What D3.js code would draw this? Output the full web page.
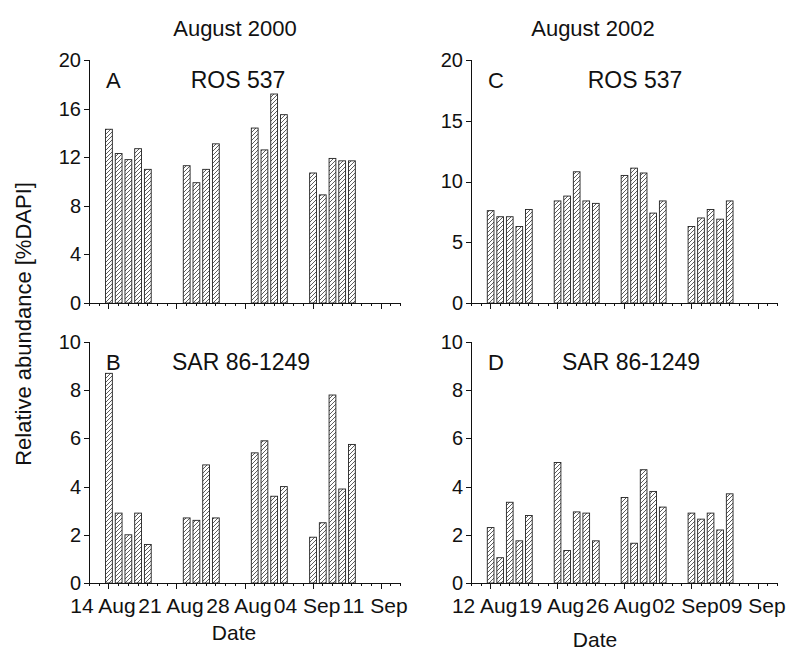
<!DOCTYPE html>
<html>
<head>
<meta charset="utf-8">
<script src="https://cdn.jsdelivr.net/npm/d3@7"></script>
<style>
  body { margin: 0; background: #fff; }
  svg { font-family: "Liberation Sans", Arial, sans-serif; }
  .axis path, .axis line { stroke: #111; stroke-width: 1; shape-rendering: crispEdges; }
  .axis text { fill: #111; font-size: 20px; }
  .xlab text { font-size: 21px; }
</style>
</head>
<body>
<div id="chart"></div>
<script>
// sampling days (5 / 4 bars per week)
var days2000 = ["2000-08-14","2000-08-15","2000-08-16","2000-08-17","2000-08-18",
                "2000-08-22","2000-08-23","2000-08-24","2000-08-25",
                "2000-08-29","2000-08-30","2000-08-31","2000-09-01",
                "2000-09-04","2000-09-05","2000-09-06","2000-09-07","2000-09-08"]
var days2002 = ["2002-08-12","2002-08-13","2002-08-14","2002-08-15","2002-08-16",
                "2002-08-19","2002-08-20","2002-08-21","2002-08-22","2002-08-23",
                "2002-08-26","2002-08-27","2002-08-28","2002-08-29","2002-08-30",
                "2002-09-02","2002-09-03","2002-09-04","2002-09-05","2002-09-06"]

// relative abundance [%DAPI]
var ros2000 = [14.3, 12.3, 11.8, 12.7, 11.0,
               11.3, 9.9, 11.0, 13.1,
               14.4, 12.6, 17.2, 15.5,
               10.7, 8.9, 11.9, 11.7, 11.7]
var sar2000 = [8.7, 2.9, 2.0, 2.9, 1.6,
               2.7, 2.6, 4.9, 2.7,
               5.4, 5.9, 3.6, 4.0,
               1.9, 2.5, 7.8, 3.9, 5.75]
var ros2002 = [7.6, 7.1, 7.1, 6.3, 7.7,
               8.4, 8.8, 10.8, 8.4, 8.2,
               10.5, 11.1, 10.7, 7.4, 8.4,
               6.3, 7.0, 7.7, 6.9, 8.4]
var sar2002 = [2.3, 1.05, 3.35, 1.75, 2.8,
               5.0, 1.35, 2.95, 2.9, 1.75,
               3.55, 1.65, 4.7, 3.8, 3.15,
               2.9, 2.65, 2.9, 2.2, 3.7]

var ticks2000 = ["2000-08-14","2000-08-21","2000-08-28","2000-09-04","2000-09-11"]
var ticks2002 = ["2002-08-12","2002-08-19","2002-08-26","2002-09-02","2002-09-09"]

var parse = d3.timeParse("%Y-%m-%d")
var fmt = d3.timeFormat("%d %b")

var W = 786, H = 657

var svg = d3.select("#chart").append("svg")
    .attr("width", W)
    .attr("height", H)

// hatch pattern for the bars
var defs = svg.append("defs")
defs.append("pattern")
    .attr("id", "hatch")
    .attr("patternUnits", "userSpaceOnUse")
    .attr("width", 4).attr("height", 4)
  .append("path")
    .attr("d", "M-1,1 l2,-2 M0,4 l4,-4 M3,5 l2,-2")
    .attr("stroke", "#333")
    .attr("stroke-width", 0.8)

var cols = [
  {x0: 89, x1: 400, start: "2000-08-12", end: "2000-09-13", days: days2000, ticks: ticks2000,
   title: "August 2000", mid: 235, dateMid: 234, dateY: 640},
  {x0: 471, x1: 777, start: "2002-08-10", end: "2002-09-11", days: days2002, ticks: ticks2002,
   title: "August 2002", mid: 593, dateMid: 595, dateY: 647}
]

var panels = [
  {col: 0, top: 60, bottom: 303, max: 20, step: 4, values: ros2000, letter: "A", name: "ROS 537", nameX: 238},
  {col: 0, top: 342, bottom: 583, max: 10, step: 2, values: sar2000, letter: "B", name: "SAR 86-1249", nameX: 241},
  {col: 1, top: 60, bottom: 303, max: 20, step: 5, values: ros2002, letter: "C", name: "ROS 537", nameX: 635},
  {col: 1, top: 342, bottom: 583, max: 10, step: 2, values: sar2002, letter: "D", name: "SAR 86-1249", nameX: 631}
]

panels.forEach(function(p) {
  var c = cols[p.col]
  var x = d3.scaleTime()
      .domain([parse(c.start), parse(c.end)])
      .range([c.x0, c.x1])
  var y = d3.scaleLinear()
      .domain([0, p.max])
      .range([p.bottom, p.top])

  var dayW = x(d3.timeDay.offset(parse(c.start), 1)) - x(parse(c.start))
  var bw = dayW * 0.7

  var data = c.days.map(function(d, i) { return {date: parse(d), v: p.values[i]} })

  svg.append("g").selectAll("rect")
    .data(data)
    .enter()
    .append("rect")
      .attr("x", function(d) { return x(d.date) - bw / 2 + 0.5 })
      .attr("y", function(d) { return y(d.v) })
      .attr("width", bw)
      .attr("height", function(d) { return y(0) - y(d.v) })
      .attr("fill", "url(#hatch)")
      .attr("stroke", "#222")
      .attr("stroke-width", 0.9)

  // y axis
  svg.append("g")
      .attr("class", "axis")
      .attr("transform", "translate(" + c.x0 + ",0)")
      .call(d3.axisLeft(y).tickValues(d3.range(0, p.max + 0.001, p.step)).tickSize(5).tickPadding(3))

  // x axis: minor daily ticks
  svg.append("g")
      .attr("class", "axis")
      .attr("transform", "translate(0," + p.bottom + ")")
      .call(d3.axisBottom(x).ticks(d3.timeDay.every(1)).tickSize(3).tickFormat("").tickSizeOuter(0))

  // x axis: weekly ticks with labels
  var major = svg.append("g")
      .attr("class", "axis xlab")
      .attr("transform", "translate(0," + p.bottom + ")")
      .call(d3.axisBottom(x).tickValues(c.ticks.map(parse)).tickSize(6).tickPadding(3).tickSizeOuter(0)
              .tickFormat(p.bottom > 400 ? fmt : ""))
  major.select(".domain").remove()
  major.selectAll("text").attr("dx", -6).attr("dy", "1.0em")

  svg.append("text")
      .attr("x", c.x0 + 17)
      .attr("y", p.top + 28)
      .attr("font-size", 22)
      .attr("fill", "#111")
      .text(p.letter)

  svg.append("text")
      .attr("x", p.nameX)
      .attr("y", p.top + 28)
      .attr("text-anchor", "middle")
      .attr("font-size", 23)
      .attr("fill", "#111")
      .text(p.name)
})

cols.forEach(function(c) {
  svg.append("text")
      .attr("x", c.mid)
      .attr("y", 36)
      .attr("text-anchor", "middle")
      .attr("font-size", 22)
      .attr("fill", "#111")
      .text(c.title)

  svg.append("text")
      .attr("x", c.dateMid)
      .attr("y", c.dateY)
      .attr("text-anchor", "middle")
      .attr("font-size", 21)
      .attr("fill", "#111")
      .text("Date")
})

svg.append("text")
    .attr("transform", "translate(31,324) rotate(-90)")
    .attr("text-anchor", "middle")
    .attr("font-size", 22)
    .attr("fill", "#111")
    .text("Relative abundance [%DAPI]")
</script>
</body>
</html>
